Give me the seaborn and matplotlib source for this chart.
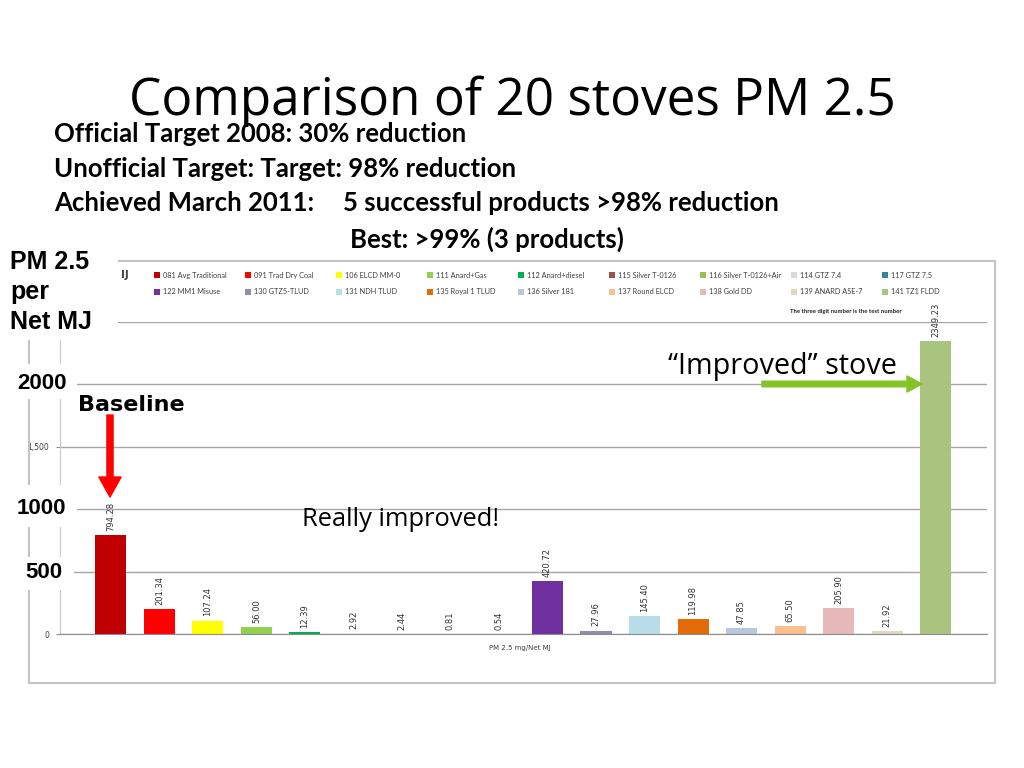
import pandas as pd
import matplotlib.pyplot as plt
import seaborn as sns
from matplotlib.patches import Rectangle

sns.set_style('white')
plt.rcParams['font.family'] = ['DejaVu Sans']
plt.rcParams['text.color'] = 'black'

#^ Data ============================================================================================>
stove_names = ['081 Avg Traditional', '091 Trad Dry Coal', '106 ELCD MM-0', '111 Anard+Gas',
               '112 Anard+diesel', '115 Silver T-0126', '116 Silver T-0126+Air', '114 GTZ 7.4',
               '117 GTZ 7.5', '122 MM1 Misuse', '130 GTZ5-TLUD', '131 NDH TLUD',
               '135 Royal 1 TLUD', '136 Silver 181', '137 Round ELCD', '138 Gold DD',
               '139 ANARD ASE-7', '141 TZ1 FLDD']
pm_values = [794.28, 201.34, 107.24, 56.00, 12.39, 2.92, 2.44, 0.81, 0.54,
             420.72, 27.96, 145.40, 119.98, 47.85, 65.50, 205.90, 21.92, 2349.23]
bar_colors = ['#c00000', '#ff0000', '#ffff00', '#92d050', '#00b050', '#9e4f4f',
              '#9bbb59', '#d9d9d9', '#31859c', '#7030a0', '#948aab', '#b7dee8',
              '#e36c09', '#b8c7dd', '#fac090', '#e6b9b8', '#ddd9c3', '#a9c47f']
y_ticks = [0, 500, 1000, 1500, 2000, 2500]
# only these two original tick labels are left uncovered on the slide
y_tick_labels = ['0', '', '', '1,500', '', '']

#^ Helpers =========================================================================================>
W, H = 1024, 768

def fx(x):
    return x / W

def fy(y):
    return 1 - y / H

fig = plt.figure(figsize=(10.24, 7.68), dpi=100)
ax = fig.add_axes([fx(60), fy(634), fx(987) - fx(60), fy(322) - fy(634)])

#^ Bars ============================================================================================>
df = pd.DataFrame({'stove': stove_names, 'pm': pm_values})
sns.barplot(data=df, x='stove', y='pm', hue='stove', palette=dict(zip(stove_names, bar_colors)),
            dodge=False, width=0.64, saturation=1, linewidth=0, legend=False, ax=ax)

for cont in ax.containers:
    ax.bar_label(cont, labels=[f'{b.get_height():.2f}' for b in cont], rotation=90,
                 padding=3, fontsize=6, color='#333333')

ax.set_xlim(-1.05, 18.06)
ax.set_ylim(0, 2500)
ax.set_xticks([])
ax.set_yticks(y_ticks, y_tick_labels)
ax.set_xlabel('')
ax.set_ylabel('')
ax.yaxis.grid(True, color='#a6a6a6', lw=1)
ax.set_axisbelow(True)
for s in ['top', 'right']:
    ax.spines[s].set_visible(False)
ax.spines['left'].set_color('#c8c8c8')
ax.spines['bottom'].set_color('#8c8c8c')
ax.tick_params(axis='y', left=True, length=3, color='#8c8c8c', labelsize=5.5,
               labelcolor='#404040', pad=5)

fig.text(fx(520), fy(648), 'PM 2.5 mg/Net MJ', fontsize=5, ha='center', va='center', color='#404040')
fig.text(fx(790), fy(311), 'The three digit number is the test number', fontsize=4.3,
         weight='bold', family='Lato', va='center', color='#202020')
fig.text(fx(121), fy(275), 'IJ', fontsize=7.5, weight='bold', va='center', color='#404040')

# legend, row by row as in the original chart
for i, (name, color) in enumerate(zip(stove_names, bar_colors)):
    row, col = divmod(i, 9)
    x0 = 157 + col * 91
    y0 = 275 + row * 17
    fig.add_artist(Rectangle((fx(x0 - 3), fy(y0 + 3)), fx(6), 6 / H, transform=fig.transFigure,
                             color=color, lw=0))
    fig.text(fx(x0 + 6), fy(y0), name, fontsize=5.3, family='Lato', va='center', color='#404040')

#^ Frame and slide boxes ===========================================================================>
fig.add_artist(Rectangle((fx(29), fy(683)), fx(995) - fx(29), fy(261) - fy(683),
                         transform=fig.transFigure, fill=False, ec='#c4c4c4', lw=1.5, zorder=1))
for (x1, y1, x2, y2) in [(0, 245, 118, 340), (0, 364, 77, 399), (0, 485, 77, 527), (0, 557, 74, 590)]:
    fig.add_artist(Rectangle((fx(x1), fy(y2)), fx(x2 - x1), (y2 - y1) / H,
                             transform=fig.transFigure, color='white', lw=0, zorder=2))

#^ Slide text ======================================================================================>
fig.text(0.5, fy(101), 'Comparison of 20 stoves PM 2.5', fontsize=37, family='Open Sans',
         ha='center', va='center', zorder=3)
sub = dict(fontsize=18.5, weight='bold', family='Lato', va='center', zorder=3)
fig.text(fx(54), fy(134), 'Official Target 2008: 30% reduction', **sub)
fig.text(fx(54), fy(169), 'Unofficial Target: Target: 98% reduction', **sub)
fig.text(fx(54), fy(203), 'Achieved March 2011:', **sub)
fig.text(fx(343), fy(203), '5 successful products >98% reduction', **sub)
fig.text(fx(350), fy(239), 'Best: >99% (3 products)', **sub)

lab = dict(fontsize=18, weight='bold', family='Liberation Sans', va='center', zorder=3)
fig.text(fx(10), fy(262), 'PM 2.5', **lab)
fig.text(fx(10), fy(292), 'per', **lab)
fig.text(fx(10), fy(322), 'Net MJ', **lab)

num = dict(fontsize=16, weight='bold', family='Liberation Sans', va='center', zorder=3)
fig.text(fx(17), fy(383), '2000', **num)
fig.text(fx(17), fy(509), '1000', **num)
fig.text(fx(25), fy(573), '500', **num)

fig.text(fx(78), fy(405), 'Baseline', fontsize=16, weight='bold', va='center', zorder=3)
fig.text(fx(302), fy(519), 'Really improved!', fontsize=18.4, family='Open Sans', va='center', zorder=3)
fig.text(fx(668), fy(367), '\u201cImproved\u201d stove', fontsize=20.7, family='Open Sans',
         va='center', zorder=3)

ax.annotate('', xy=(110, H - 497), xytext=(110, H - 415), xycoords='figure pixels',
            arrowprops=dict(arrowstyle='simple,head_length=0.72,head_width=0.8,tail_width=0.22',
                            color='#ff0000', mutation_scale=20, shrinkA=0, shrinkB=0), zorder=4)
ax.annotate('', xy=(922, H - 384), xytext=(762, H - 384), xycoords='figure pixels',
            arrowprops=dict(arrowstyle='simple,head_length=0.54,head_width=0.58,tail_width=0.2',
                            color='#84c225', mutation_scale=20, shrinkA=0, shrinkB=0), zorder=4)

plt.savefig('out.png', dpi=100)
